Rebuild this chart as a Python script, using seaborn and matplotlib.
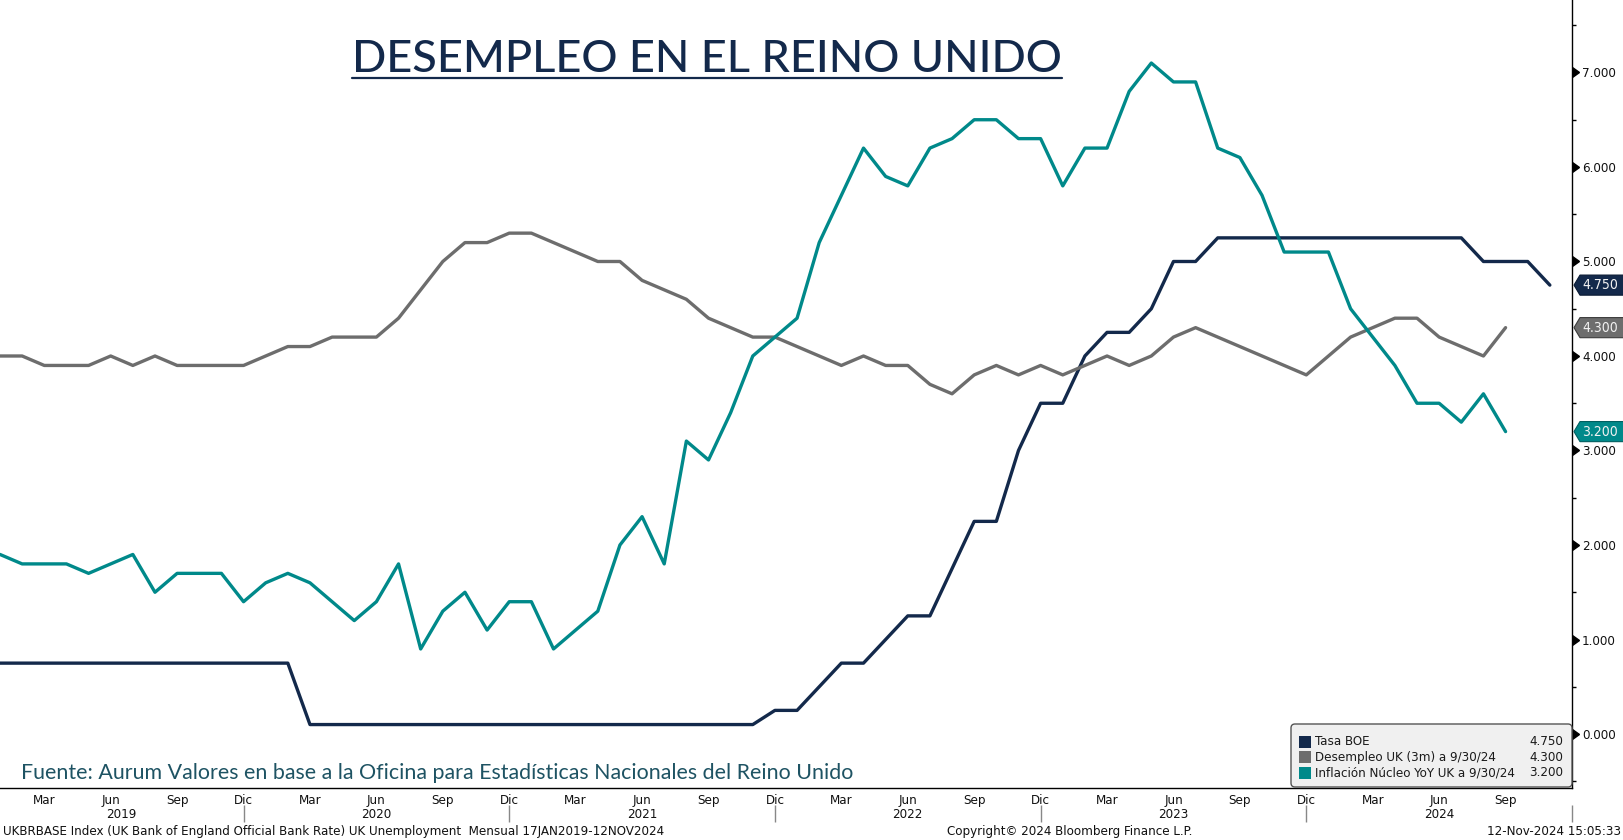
import numpy as np
import pandas as pd
import seaborn as sns
import matplotlib.pyplot as plt
from matplotlib.path import Path
from matplotlib.patches import FancyBboxPatch, Rectangle
from matplotlib.lines import Line2D
from matplotlib.transforms import IdentityTransform

# monthly data, Jan 2019 onwards
tasa_boe = [
    0.75, 0.75, 0.75, 0.75, 0.75, 0.75, 0.75, 0.75, 0.75, 0.75, 0.75, 0.75,  # 2019
    0.75, 0.75, 0.10, 0.10, 0.10, 0.10, 0.10, 0.10, 0.10, 0.10, 0.10, 0.10,  # 2020
    0.10, 0.10, 0.10, 0.10, 0.10, 0.10, 0.10, 0.10, 0.10, 0.10, 0.10, 0.25,  # 2021
    0.25, 0.50, 0.75, 0.75, 1.00, 1.25, 1.25, 1.75, 2.25, 2.25, 3.00, 3.50,  # 2022
    3.50, 4.00, 4.25, 4.25, 4.50, 5.00, 5.00, 5.25, 5.25, 5.25, 5.25, 5.25,  # 2023
    5.25, 5.25, 5.25, 5.25, 5.25, 5.25, 5.25, 5.00, 5.00, 5.00, 4.75,        # 2024
]
desempleo = [
    4.0, 4.0, 3.9, 3.9, 3.9, 4.0, 3.9, 4.0, 3.9, 3.9, 3.9, 3.9,
    4.0, 4.1, 4.1, 4.2, 4.2, 4.2, 4.4, 4.7, 5.0, 5.2, 5.2, 5.3,
    5.3, 5.2, 5.1, 5.0, 5.0, 4.8, 4.7, 4.6, 4.4, 4.3, 4.2, 4.2,
    4.1, 4.0, 3.9, 4.0, 3.9, 3.9, 3.7, 3.6, 3.8, 3.9, 3.8, 3.9,
    3.8, 3.9, 4.0, 3.9, 4.0, 4.2, 4.3, 4.2, 4.1, 4.0, 3.9, 3.8,
    4.0, 4.2, 4.3, 4.4, 4.4, 4.2, 4.1, 4.0, 4.3,
]
inflacion = [
    1.9, 1.8, 1.8, 1.8, 1.7, 1.8, 1.9, 1.5, 1.7, 1.7, 1.7, 1.4,
    1.6, 1.7, 1.6, 1.4, 1.2, 1.4, 1.8, 0.9, 1.3, 1.5, 1.1, 1.4,
    1.4, 0.9, 1.1, 1.3, 2.0, 2.3, 1.8, 3.1, 2.9, 3.4, 4.0, 4.2,
    4.4, 5.2, 5.7, 6.2, 5.9, 5.8, 6.2, 6.3, 6.5, 6.5, 6.3, 6.3,
    5.8, 6.2, 6.2, 6.8, 7.1, 6.9, 6.9, 6.2, 6.1, 5.7, 5.1, 5.1,
    5.1, 4.5, 4.2, 3.9, 3.5, 3.5, 3.3, 3.6, 3.2,
]

series_names = ['Tasa BOE', 'Desempleo UK (3m) a 9/30/24', 'Inflación Núcleo YoY UK a 9/30/24']
series_values = [tasa_boe, desempleo, inflacion]
colors = ['#13294b', '#6d6d6d', '#00898a']
edge_colors = ['#0a1a33', '#3c3c3c', '#005f60']

month_labels = ['Mar', 'Jun', 'Sep', 'Dic']
years = ['2019', '2020', '2021', '2022', '2023', '2024']
n_months = 71  # Jan 2019 .. Dec 2024 on the axis

sns.set_style('white')
plt.rcParams['font.family'] = ['DejaVu Sans']
plt.rcParams['font.stretch'] = 'condensed'  # narrow Bloomberg-like text

# long table for seaborn
frames = []
for name, vals in zip(series_names, series_values):
    frames.append(pd.DataFrame({'mes': np.arange(len(vals)), 'valor': vals, 'serie': name}))
df = pd.concat(frames, ignore_index=True)

W, H = 1624, 840
fig = plt.figure(figsize=(W / 100, H / 100), dpi=100)
ax = fig.add_axes([0, 52.5 / H, 1572 / W, 787.5 / H])

sns.lineplot(data=df, x='mes', y='valor', hue='serie', hue_order=series_names,
             palette=dict(zip(series_names, colors)), linewidth=2.4,
             legend=False, ax=ax)

ax.set_xlim(0, n_months)
ax.set_ylim(-0.566, 7.767)
ax.set_xlabel('')
ax.set_ylabel('')

for s in ['top', 'left']:
    ax.spines[s].set_visible(False)
for s in ['right', 'bottom']:
    ax.spines[s].set_color('black')
    ax.spines[s].set_linewidth(1)

# y axis on the right, Bloomberg style
ax.yaxis.tick_right()
yt = list(range(8))
ax.set_yticks(yt)
ax.set_yticklabels([f'{v:.3f}' for v in yt])
ax.set_yticks(np.arange(-0.5, 8, 1), minor=True)
ax.tick_params(axis='y', which='major', length=0, pad=7.2, labelsize=9.5, labelcolor='#111111')
ax.tick_params(axis='y', which='minor', length=3, width=1, color='black', direction='out')
ax.plot(np.ones(len(yt)), yt, transform=ax.get_yaxis_transform(), marker=9,
        ls='none', ms=7, color='black', clip_on=False)

# x axis: a tick every month, labels every quarter
quarter_idx = [i for i in range(n_months) if i % 3 == 2]
ax.set_xticks(quarter_idx)
ax.set_xticklabels([month_labels[(i // 3) % 4] for i in quarter_idx])
ax.set_xticks(np.arange(0, n_months + 1), minor=True)
ax.tick_params(axis='x', which='both', length=3, width=1, color='black', direction='out',
               pad=1.5, labelsize=9.5, labelcolor='#111111')

# year separators and year labels
seps = [11, 23, 35, 47, 59, 71]
ax.vlines(seps, -0.0222, -0.0438, transform=ax.get_xaxis_transform(),
          color='#888888', lw=1, clip_on=False)
bounds = [0] + seps
for k, yr in enumerate(years):
    ax.annotate(yr, xy=((bounds[k] + bounds[k + 1]) / 2, 0), xycoords=ax.get_xaxis_transform(),
                xytext=(0, -27), textcoords='offset pixels', ha='center', va='center',
                fontsize=9.5, color='#111111', annotation_clip=False)


# value tags at the right edge
def tag_style(x0, y0, width, height, mutation_size):
    pad = 0.22 * mutation_size
    bottom, top = y0 - pad, y0 + height + pad
    left = x0 - 2
    tip = left - 6
    right = x0 + width + 80
    mid = (bottom + top) / 2
    return Path([(tip, mid), (left, top), (right, top), (right, bottom), (left, bottom), (tip, mid)],
                closed=True)


for vals, c, ec in zip(series_values, colors, edge_colors):
    ax.annotate(f'{vals[-1]:.3f}', xy=(1, vals[-1]), xycoords=ax.get_yaxis_transform(),
                xytext=(10, 0), textcoords='offset pixels', ha='left', va='center',
                fontsize=10, color='#f2f2f2', annotation_clip=False,
                bbox=dict(boxstyle=tag_style, fc=c, ec=ec, lw=0.8))

# title with underline
title = fig.text(707 / W, 1 - 72.5 / H, 'DESEMPLEO EN EL REINO UNIDO', ha='center', va='baseline',
                 fontsize=32.5, fontweight='medium', fontstretch='normal', color='#13294b',
                 family=['Lato', 'DejaVu Sans'])
fig.canvas.draw()
bb = title.get_window_extent()
fig.add_artist(Line2D([bb.x0, bb.x1], [H - 78, H - 78], transform=IdentityTransform(),
                      color='#13294b', lw=1.6))

# source
fig.text(21 / W, 1 - 773 / H,
         'Fuente: Aurum Valores en base a la Oficina para Estadísticas Nacionales del Reino Unido',
         ha='left', va='center', fontsize=15.4, fontstretch='normal', color='#1e5363',
         family=['Lato', 'DejaVu Sans'])

# legend box
fig.add_artist(FancyBboxPatch((1291, H - 787), 281, 63, boxstyle='round,pad=0,rounding_size=4',
                              transform=IdentityTransform(), fc='#f0f0f0', ec='#555555', lw=1))
row_y = [741.7, 757.3, 772.7]
for name, vals, c, ry in zip(series_names, series_values, colors, row_y):
    fig.add_artist(Rectangle((1299, H - ry - 6), 12, 12, transform=IdentityTransform(),
                             fc=c, ec='none'))
    fig.text(1315 / W, 1 - ry / H, name, ha='left', va='center', fontsize=9.5, color='#1a1a1a')
    fig.text(1563 / W, 1 - ry / H, f'{vals[-1]:.3f}', ha='right', va='center', fontsize=9.5,
             color='#1a1a1a')

# footer
fig.text(3 / W, 1 - 831.7 / H,
         'UKBRBASE Index (UK Bank of England Official Bank Rate) UK Unemployment  Mensual 17JAN2019-12NOV2024',
         ha='left', va='center', fontsize=9.5, color='#111111')
fig.text(1070 / W, 1 - 831.7 / H, 'Copyright© 2024 Bloomberg Finance L.P.', ha='center', va='center',
         fontsize=9.5, color='#111111')
fig.text(1621 / W, 1 - 831.7 / H, '12-Nov-2024 15:05:33', ha='right', va='center',
         fontsize=9.5, color='#111111')

fig.savefig('out.png', dpi=100)
